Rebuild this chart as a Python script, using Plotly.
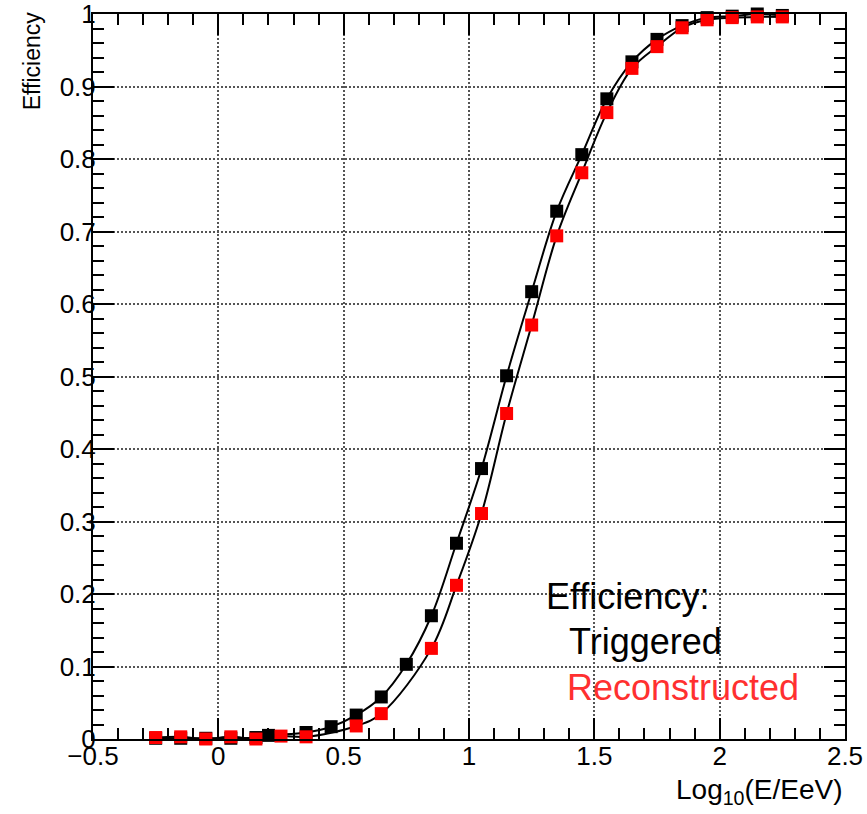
import plotly.graph_objects as go

# Data
x_trig = [-0.25, -0.15, -0.05, 0.05, 0.15, 0.2, 0.35, 0.45, 0.55, 0.65, 0.75, 0.85, 0.95,
          1.05, 1.15, 1.25, 1.35, 1.45, 1.55, 1.65, 1.75, 1.85, 1.95, 2.05, 2.15, 2.25]
eff_trig = [0.001, 0.001, 0.001, 0.001, 0.002, 0.005, 0.009, 0.017, 0.033, 0.058, 0.103, 0.170, 0.270,
            0.373, 0.501, 0.617, 0.728, 0.806, 0.883, 0.934, 0.965, 0.984, 0.995, 0.997, 1.0, 0.998]

x_reco = [-0.25, -0.15, -0.05, 0.05, 0.15, 0.25, 0.35, 0.55, 0.65, 0.85, 0.95,
          1.05, 1.15, 1.25, 1.35, 1.45, 1.55, 1.65, 1.75, 1.85, 1.95, 2.05, 2.15, 2.25]
eff_reco = [0.002, 0.003, 0.0, 0.003, 0.0, 0.004, 0.003, 0.018, 0.035, 0.125, 0.212,
            0.311, 0.449, 0.571, 0.694, 0.781, 0.864, 0.925, 0.955, 0.981, 0.992, 0.995, 0.996, 0.996]

x_ticks = [-0.5, 0, 0.5, 1, 1.5, 2, 2.5]
y_ticks = [0, 0.1, 0.2, 0.3, 0.4, 0.5, 0.6, 0.7, 0.8, 0.9, 1]

FONT = "Liberation Sans, Arial, sans-serif"

fig = go.Figure()
fig.add_trace(go.Scatter(
    x=x_trig, y=eff_trig, mode="lines+markers", name="Triggered",
    line=dict(color="black", width=2, shape="spline", smoothing=1),
    marker=dict(symbol="square", size=13, color="black"),
    cliponaxis=False,
))
fig.add_trace(go.Scatter(
    x=x_reco, y=eff_reco, mode="lines+markers", name="Reconstructed",
    line=dict(color="black", width=2, shape="spline", smoothing=1),
    marker=dict(symbol="square", size=13, color="#ff0000"),
    cliponaxis=False,
))

axis_common = dict(
    showline=True, linecolor="black", linewidth=2, mirror="allticks",
    ticks="inside", ticklen=21, tickwidth=1.5, tickcolor="black",
    showgrid=True, gridcolor="#555555", gridwidth=1.5, griddash="2px,2px",
    zeroline=False, automargin=False, ticklabeloverflow="allow",
    tickfont=dict(family=FONT, size=26, color="black"),
)

fig.update_xaxes(
    range=[-0.5, 2.5], tickvals=x_ticks, ticklabelstandoff=-7,
    minor=dict(dtick=0.1, ticks="inside", ticklen=11, tickwidth=1.5, tickcolor="black", showgrid=False),
    **axis_common,
)
fig.update_yaxes(
    range=[0, 1], tickvals=y_ticks, ticklabelstandoff=-10,
    minor=dict(dtick=0.02, ticks="inside", ticklen=11, tickwidth=1.5, tickcolor="black", showgrid=False),
    **axis_common,
)

annots = [
    dict(text="Efficiency:", x=1.3, y=0.197, color="black"),
    dict(text="Triggered", x=1.392, y=0.135, color="black"),
    dict(text="Reconstructed", x=1.384, y=0.071, color="#ff3030"),
]
for a in annots:
    fig.add_annotation(x=a["x"], y=a["y"], xref="x", yref="y", text=a["text"],
                       showarrow=False, xanchor="left", yanchor="middle",
                       font=dict(family=FONT, size=36, color=a["color"]))

fig.add_annotation(text="Log<sub>10</sub>(E/EeV)", xref="paper", yref="paper",
                   x=1.0, y=-0.072, xanchor="right", yanchor="middle", showarrow=False,
                   font=dict(family=FONT, size=28, color="black"))
fig.add_annotation(text="Efficiency", xref="paper", yref="paper", textangle=-90,
                   x=-0.081, y=1.006, xanchor="center", yanchor="top", showarrow=False,
                   font=dict(family=FONT, size=23, color="black"))

fig.update_layout(
    width=867, height=814,
    margin=dict(l=93, r=22, t=14, b=75),
    plot_bgcolor="white", paper_bgcolor="white",
    showlegend=False,
)

fig.write_html(
    "out.html",
    config={"displayModeBar": False},
    post_script="document.body.style.margin='0';document.body.style.overflow='hidden';",
)
